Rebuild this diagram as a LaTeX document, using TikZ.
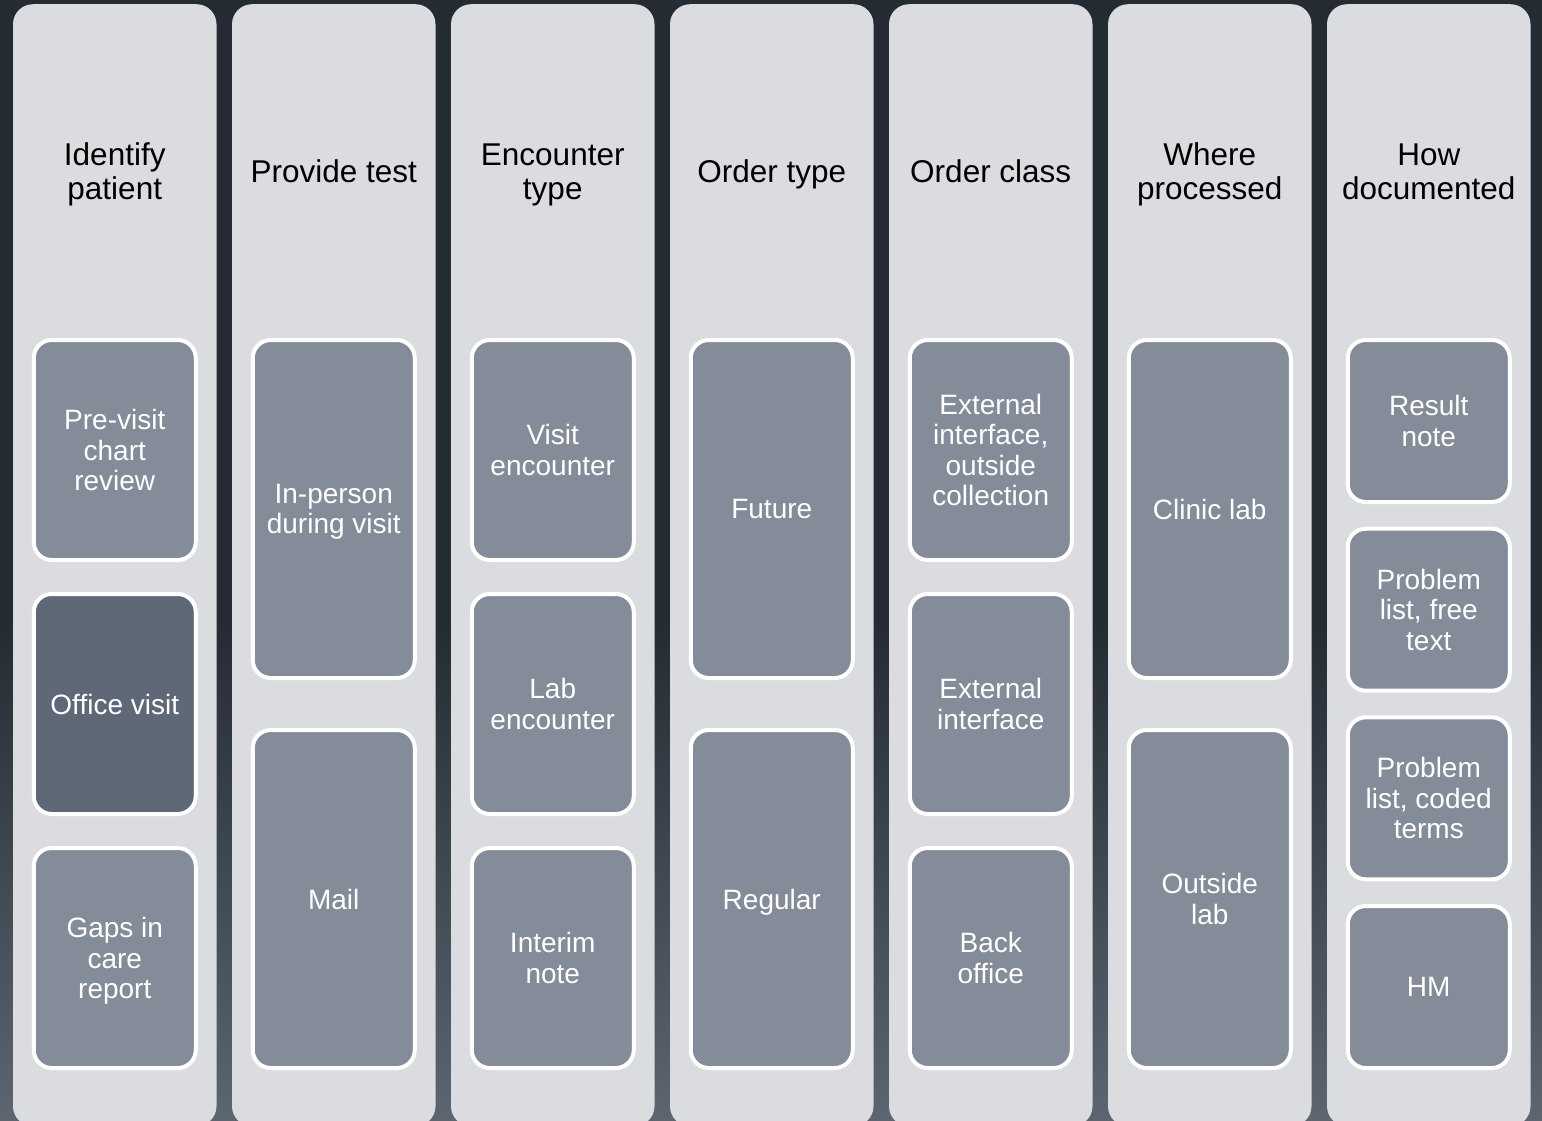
\documentclass[tikz,border=0pt]{standalone}
\usepackage{fontspec}
\setmainfont{Liberation Sans}
\definecolor{bgtop}{HTML}{242B33}
\definecolor{bgbot}{HTML}{5C6570}
\definecolor{colfill}{HTML}{DBDCDF}
\definecolor{boxfill}{HTML}{848C9A}
\definecolor{boxdark}{HTML}{5F6877}
\tikzset{
  column/.style={fill=colfill, draw=none, rounded corners=20pt, minimum width=203.5pt, minimum height=1122pt, anchor=north, inner sep=0pt},
  header/.style={text=black, align=center, font=\fontsize{31.5}{34}\selectfont, inner sep=0pt, text depth=0pt},
  item/.style={fill=boxfill, draw=white, line width=4pt, rounded corners=18pt, minimum width=162pt, text=white, align=center, font=\fontsize{28}{30.5}\selectfont, inner sep=0pt, text depth=0pt},
  itemdark/.style={item, fill=boxdark},
}
\begin{document}
\begin{tikzpicture}[x=1pt, y=-1pt]
\useasboundingbox (0,0) rectangle (1542,1120);
\clip (0,0) rectangle (1542,1120);
\fill[bgtop] (0,0) rectangle (1542,620);
\shade[top color=bgtop, bottom color=bgbot] (0,619.5) rectangle (1542,1120);
% columns
\foreach \i in {0,...,6} {
  \node[column] (col\i) at ({114.75+219*\i},4) {};
}
% headers
\node[header] (h1) at (114.75,171.5) {Identify\\patient};
\node[header] (h2) at (333.75,171.5) {Provide test};
\node[header] (h3) at (552.75,171.5) {Encounter\\type};
\node[header] (h4) at (771.75,171.5) {Order type};
\node[header] (h5) at (990.75,171.5) {Order class};
\node[header] (h6) at (1209.75,171.5) {Where\\processed};
\node[header] (h7) at (1428.75,171.5) {How\\documented};
% column 1
\node[item, minimum height=220pt] (a1) at (114.75,450) {Pre-visit\\chart\\review};
\node[itemdark, minimum height=220pt] (a2) at (114.75,704) {Office visit};
\node[item, minimum height=220pt] (a3) at (114.75,958) {Gaps in\\care\\report};
% column 2
\node[item, minimum height=338pt] (b1) at (333.75,509) {In-person\\during visit};
\node[item, minimum height=338pt] (b2) at (333.75,899) {Mail};
% column 3
\node[item, minimum height=220pt] (c1) at (552.75,450) {Visit\\encounter};
\node[item, minimum height=220pt] (c2) at (552.75,704) {Lab\\encounter};
\node[item, minimum height=220pt] (c3) at (552.75,958) {Interim\\note};
% column 4
\node[item, minimum height=338pt] (d1) at (771.75,509) {Future};
\node[item, minimum height=338pt] (d2) at (771.75,899) {Regular};
% column 5
\node[item, minimum height=220pt] (e1) at (990.75,450) {External\\interface,\\outside\\collection};
\node[item, minimum height=220pt] (e2) at (990.75,704) {External\\interface};
\node[item, minimum height=220pt] (e3) at (990.75,958) {Back\\office};
% column 6
\node[item, minimum height=338pt] (f1) at (1209.75,509) {Clinic lab};
\node[item, minimum height=338pt] (f2) at (1209.75,899) {Outside\\lab};
% column 7
\node[item, minimum height=162pt] (g1) at (1428.75,421) {Result\\note};
\node[item, minimum height=162pt] (g2) at (1428.75,609.7) {Problem\\list, free\\text};
\node[item, minimum height=162pt] (g3) at (1428.75,798.3) {Problem\\list, coded\\terms};
\node[item, minimum height=162pt] (g4) at (1428.75,987) {HM};
\end{tikzpicture}
\end{document}
